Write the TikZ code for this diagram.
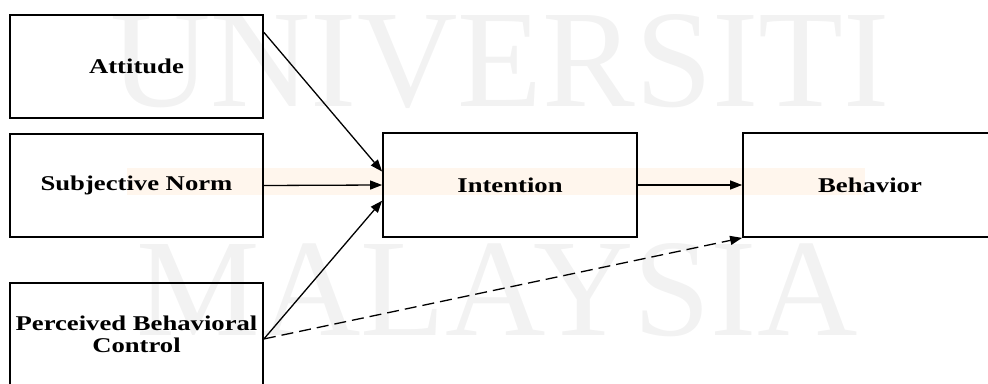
\documentclass[tikz,border=0pt]{standalone}
\usepackage{fontspec}
\setmainfont{Liberation Serif}
\newfontfamily\boxfont[FakeStretch=1.27]{Liberation Serif}
\usetikzlibrary{arrows.meta}

\begin{document}
\begin{tikzpicture}[x=1pt,y=1pt,
  factor/.style={draw,line width=1.8pt,minimum width=253pt,minimum height=103pt,
    inner sep=0pt,align=center,font=\boxfont\bfseries\fontsize{21}{22}\selectfont},
  link/.style={line width=1.3pt,-{Triangle[length=12pt,width=9pt]}}]
\useasboundingbox (0,0) rectangle (988,383);
% watermark behind the model
\fill[orange!7] (127,188) rectangle (865,215);
\node[text=black!5,anchor=base,inner sep=0pt,font=\fontsize{139}{139}\selectfont] (wmtop) at (500,276) {UNIVERSITI};
\node[text=black!5,anchor=base,inner sep=0pt,font=\fontsize{139}{139}\selectfont] (wmbot) at (497,48) {MALAYSIA};
% constructs
\node[factor] (att) at (136.5,316.5) {Attitude};
\node[factor] (sn) at (136.5,197.5) {Subjective Norm};
\node[factor] (pbc) at (136.5,48.5) {Perceived Behavioral\\Control};
\node[factor,minimum width=254pt,minimum height=104pt] (int) at (510,198) {Intention};
\node[factor,minimum width=254pt,minimum height=104pt] (beh) at (870,198) {Behavior};
% paths
\draw[link] (att.15) -- (int.174);
\draw[link] (sn.east) -- (int.west);
\draw[link] (pbc.-2) -- (int.187);
\draw[link] (int.east) -- (beh.west);
\draw[link,dash pattern=on 12pt off 6pt] (pbc.-2) -- (beh.south west);
\end{tikzpicture}
\end{document}
